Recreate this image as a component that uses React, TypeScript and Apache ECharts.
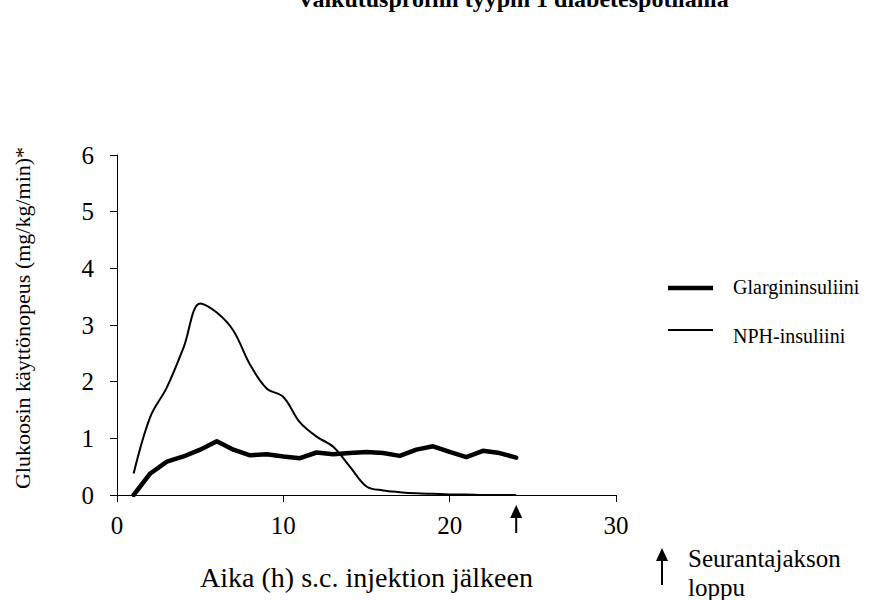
import React, { useEffect, useRef } from "react";
import * as echarts from "echarts";

const FONT = "Liberation Serif";

const titleText = "Vaikutusprofiili tyypin 1 diabetespotilailla";
const yAxisTitle = "Glukoosin käyttönopeus (mg/kg/min)*";
const xAxisTitle = "Aika (h) s.c. injektion jälkeen";
const seriesNames = ["Glargininsuliini", "NPH-insuliini"];
const endNoteLines = ["Seurantajakson", "loppu"];
const endOfFollowUp = 24;

const hours = [1, 2, 3, 4, 5, 6, 7, 8, 9, 10, 11, 12, 13, 14, 15, 16, 17, 18, 19, 20, 21, 22, 23, 24];
const glargine = [0, 0.38, 0.59, 0.68, 0.8, 0.95, 0.8, 0.7, 0.72, 0.68, 0.65, 0.75, 0.72, 0.74, 0.76, 0.74, 0.69, 0.8, 0.86, 0.76, 0.67, 0.78, 0.74, 0.66];
const nph = [0.38, 1.38, 1.9, 2.6, 3.38, 3.22, 2.9, 2.3, 1.88, 1.73, 1.28, 1.03, 0.85, 0.5, 0.15, 0.08, 0.05, 0.03, 0.02, 0.01, 0.01, 0, 0, 0];

function arrow(x: number, yTip: number, yEnd: number) {
  return {
    type: "group",
    children: [
      { type: "line", shape: { x1: x, y1: yTip + 8, x2: x, y2: yEnd }, style: { stroke: "#000", lineWidth: 2 } },
      {
        type: "polygon",
        shape: { points: [[x, yTip], [x - 6, yTip + 13], [x + 6, yTip + 13]] },
        style: { fill: "#000" },
      },
    ],
  };
}

export default function App() {
  const ref = useRef<HTMLDivElement>(null);
  useEffect(() => {
    if (!ref.current) return;
    const chart = echarts.init(ref.current, undefined, { renderer: "svg" });
    const option: any = {
      animation: false,
      backgroundColor: "#fff",
      textStyle: { fontFamily: FONT, color: "#000" },
      grid: { left: 117, right: 269, top: 155, bottom: 105, containLabel: false },
      xAxis: {
        type: "value",
        min: 0,
        max: 30,
        interval: 10,
        name: xAxisTitle,
        nameLocation: "middle",
        nameGap: 82,
        nameTextStyle: { fontFamily: FONT, fontSize: 28, color: "#000", verticalAlign: "middle" },
        axisLine: { lineStyle: { color: "#000", width: 1 } },
        axisTick: { show: true, length: 7, lineStyle: { color: "#000" } },
        axisLabel: { fontFamily: FONT, fontSize: 25, color: "#000", margin: 30, verticalAlign: "middle" },
        splitLine: { show: false },
      },
      yAxis: {
        type: "value",
        min: 0,
        max: 6,
        interval: 1,
        name: yAxisTitle,
        nameLocation: "middle",
        nameGap: 95,
        nameTextStyle: {
          fontFamily: FONT,
          fontSize: 22,
          color: "#000",
          verticalAlign: "middle",
          padding: [0, 0, 0, 14],
        },
        axisLine: { show: true, lineStyle: { color: "#000", width: 1 } },
        axisTick: { show: true, length: 7, lineStyle: { color: "#000" } },
        axisLabel: { fontFamily: FONT, fontSize: 25, color: "#000", margin: 23 },
        splitLine: { show: false },
      },
      series: [
        {
          name: seriesNames[0],
          type: "line",
          data: hours.map((h, i) => [h, glargine[i]]),
          symbol: "none",
          smooth: false,
          lineStyle: { color: "#000", width: 4.5, join: "round", cap: "round" },
          itemStyle: { color: "#000" },
          z: 3,
        },
        {
          name: seriesNames[1],
          type: "line",
          data: hours.map((h, i) => [h, nph[i]]),
          symbol: "none",
          smooth: 0.35,
          lineStyle: { color: "#000", width: 2 },
          itemStyle: { color: "#000" },
          z: 2,
        },
      ],
    };
    chart.setOption(option);
    const ax = chart.convertToPixel({ xAxisIndex: 0 }, endOfFollowUp) as number;
    chart.setOption({
      graphic: [
        {
          type: "text",
          x: 513,
          y: -1,
          style: {
            text: titleText,
            font: `bold 24px ${FONT}`,
            fill: "#000",
            align: "center",
            verticalAlign: "middle",
          },
        },
        { type: "line", shape: { x1: 668, y1: 288, x2: 713, y2: 288 }, style: { stroke: "#000", lineWidth: 4.5 } },
        {
          type: "text",
          x: 733,
          y: 287,
          style: { text: seriesNames[0], font: `20px ${FONT}`, fill: "#000", align: "left", verticalAlign: "middle" },
        },
        { type: "line", shape: { x1: 668, y1: 330, x2: 713, y2: 330 }, style: { stroke: "#000", lineWidth: 2 } },
        {
          type: "text",
          x: 733,
          y: 336,
          style: { text: seriesNames[1], font: `20px ${FONT}`, fill: "#000", align: "left", verticalAlign: "middle" },
        },
        arrow(ax, 505, 533),
        arrow(662, 548, 585),
        {
          type: "text",
          x: 688,
          y: 558,
          style: { text: endNoteLines[0], font: `25px ${FONT}`, fill: "#000", align: "left", verticalAlign: "middle" },
        },
        {
          type: "text",
          x: 688,
          y: 587,
          style: { text: endNoteLines[1], font: `25px ${FONT}`, fill: "#000", align: "left", verticalAlign: "middle" },
        },
      ],
    });
    return () => chart.dispose();
  }, []);
  return <div ref={ref} style={{ position: "absolute", left: 0, top: 0, width: 885, height: 600 }} />;
}
